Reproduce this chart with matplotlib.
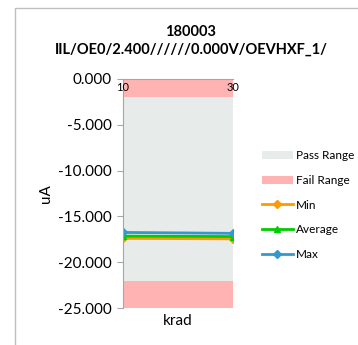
import matplotlib.pyplot as plt
from matplotlib.patches import Rectangle

plt.rcParams['font.family'] = ['Lato', 'DejaVu Sans']

krad = [10, 30]
min_vals = [-17.4, -17.45]
avg_vals = [-17.15, -17.2]
max_vals = [-16.75, -16.85]
pass_range = (-22.0, -2.0)
fail_ranges = [(-2.0, 0.0), (-25.0, -22.0)]
y_ticks = [0, -5, -10, -15, -20, -25]

fig = plt.figure(figsize=(3.58, 3.45), dpi=100, facecolor="white")
# chart area frame
fig.patches.append(Rectangle((15 / 358, -0.1), 1.2, 1.1 - 8 / 345,
                             transform=fig.transFigure, fill=False,
                             edgecolor="#BFBFBF", linewidth=1.0))

ax = fig.add_axes([123 / 358, 1 - 308 / 345, 110 / 358, 229 / 345])

ax.axhspan(pass_range[0], pass_range[1], color="#E7EBEA", lw=0, label="Pass Range")
for i, (lo, hi) in enumerate(fail_ranges):
    ax.axhspan(lo, hi, color="#FFB3B3", lw=0, label="Fail Range" if i == 0 else None)

ax.plot(krad, min_vals, color="#FF9900", lw=2.0, marker="D", ms=4, label="Min")
ax.plot(krad, avg_vals, color="#00CC00", lw=2.0, marker="^", ms=4, label="Average")
ax.plot(krad, max_vals, color="#3399CC", lw=2.0, marker="D", ms=4, label="Max")

ax.set_xlim(krad[0], krad[-1])
ax.set_ylim(-25, 0)
ax.set_yticks(y_ticks)
ax.set_yticklabels(["%.3f" % v for v in y_ticks], fontsize=11)
ax.set_xticks(krad)
ax.tick_params(axis="x", length=0, top=False, bottom=False,
               labeltop=False, labelbottom=False)
for k in krad:
    ax.text(k, -0.3, str(k), fontsize=8, ha="center", va="top", color="#000000",
            clip_on=False)
ax.tick_params(axis="y", length=4, color="#A6A6A6", pad=4)

for s in ["right", "bottom"]:
    ax.spines[s].set_visible(False)
ax.spines["left"].set_color("#A6A6A6")
ax.spines["top"].set_color("#A6A6A6")

ax.set_ylabel("uA", fontsize=11, labelpad=4)
ax.set_xlabel("krad", fontsize=11, labelpad=4)

fig.text(191 / 358, 1 - 41 / 345, "180003\nIIL/OE0/2.400//////0.000V/OEVHXF_1/",
         ha="center", va="center", fontsize=10.5, fontweight="bold", linespacing=1.35)

leg = ax.legend(loc="upper left", bbox_to_anchor=(262 / 358, 1 - 150 / 345),
                bbox_transform=fig.transFigure, frameon=False, fontsize=8.5,
                handlelength=2.6, labelspacing=1.17, handletextpad=0.25,
                borderpad=0, borderaxespad=0)

fig.savefig("out.png", dpi=100)
